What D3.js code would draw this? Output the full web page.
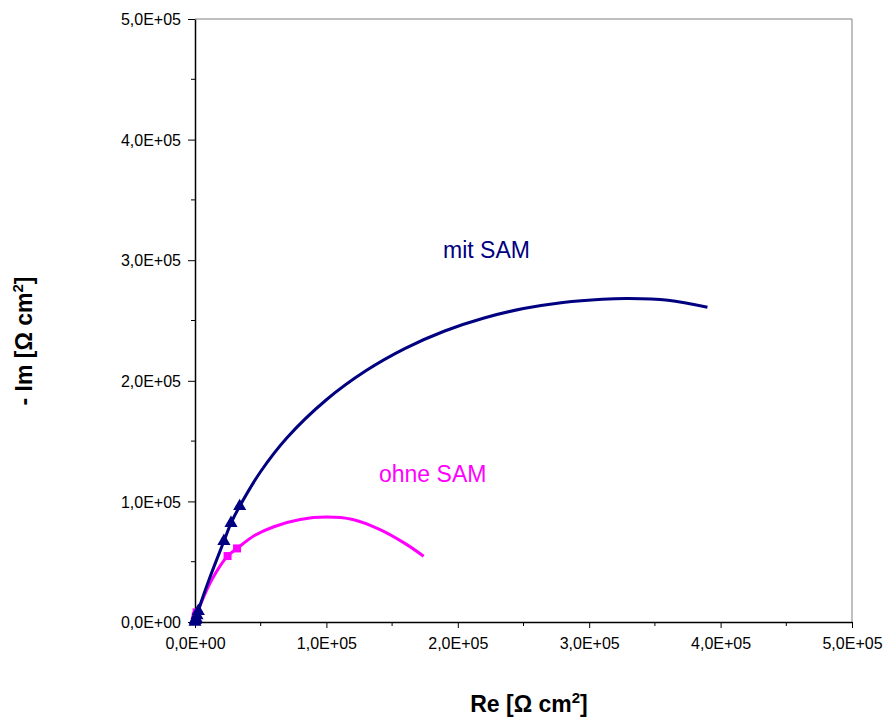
<!DOCTYPE html>
<html>
<head>
<meta charset="utf-8">
<script src="https://d3js.org/d3.v7.min.js"></script>
<style>
  body { margin: 0; background: #fff; }
  text { font-family: "Liberation Sans", Arial, sans-serif; }
</style>
</head>
<body>
<div id="chart"></div>
<script>
// axis ticks
const xTicks = [0, 100000, 200000, 300000, 400000, 500000];
const yTicks = [0, 100000, 200000, 300000, 400000, 500000];

// mit SAM - smoothed line [Re, -Im]
const mitRe = [0, 3000, 10600, 22000, 27400, 34000, 50000, 70000, 100000, 130000, 160000, 190000, 220000, 250000, 280000, 310000, 330000, 360000, 390000];
const mitIm = [0, 11000, 34800, 67000, 82000, 96000, 124800, 152800, 184300, 208300, 226900, 241300, 252100, 259900, 265000, 267700, 268300, 266800, 261000];
// mit SAM - marker points
const mitMarkRe = [0, 300, 800, 1500, 2500, 22000, 27400, 34000];
const mitMarkIm = [0, 1500, 3000, 5500, 9000, 67000, 82000, 96000];

// ohne SAM - smoothed line
const ohneRe = [0, 1000, 4000, 12700, 24800, 32000, 45000, 60000, 80000, 100000, 120000, 140000, 160000, 174000];
const ohneIm = [0, 5000, 14000, 34800, 54700, 61000, 71500, 79000, 85000, 87000, 85000, 77000, 65000, 54500];
// ohne SAM - marker points
const ohneMarkRe = [200, 600, 1200, 24800, 32000];
const ohneMarkIm = [2000, 5000, 8000, 54700, 61000];

const W = 888, H = 727;
const plot = { left: 195, right: 852, top: 19, bottom: 622 };

const svg = d3.select("#chart").append("svg")
    .attr("width", W)
    .attr("height", H);

svg.append("rect").attr("width", W).attr("height", H).attr("fill", "#fff");

const x = d3.scaleLinear().domain([0, 500000]).range([plot.left, plot.right]);
const y = d3.scaleLinear().domain([0, 500000]).range([plot.bottom, plot.top]);

const fmt = v => {
    const e = v === 0 ? 0 : Math.floor(Math.log10(v));
    const m = v / Math.pow(10, e);
    return m.toFixed(1).replace(".", ",") + "E+" + String(e).padStart(2, "0");
};

// plot frame (top + right, gray)
svg.append("path")
    .attr("d", `M${plot.left},${plot.top}H${plot.right}V${plot.bottom}`)
    .attr("fill", "none")
    .attr("stroke", "#808080")
    .attr("stroke-width", 1);

// minor ticks
const minor = d3.range(50000, 500000, 100000);
svg.append("g").selectAll("line").data(minor).join("line")
    .attr("x1", d => x(d)).attr("x2", d => x(d))
    .attr("y1", plot.bottom).attr("y2", plot.bottom + 4)
    .attr("stroke", "#000");
svg.append("g").selectAll("line").data(minor).join("line")
    .attr("y1", d => y(d)).attr("y2", d => y(d))
    .attr("x1", plot.left - 4).attr("x2", plot.left)
    .attr("stroke", "#000");

// X axis
const xAxis = svg.append("g")
    .attr("transform", `translate(0,${plot.bottom})`)
    .call(d3.axisBottom(x).tickValues(xTicks).tickFormat(fmt).tickSizeInner(6).tickSizeOuter(0).tickPadding(10));

// Y axis
const yAxis = svg.append("g")
    .attr("transform", `translate(${plot.left},0)`)
    .call(d3.axisLeft(y).tickValues(yTicks).tickFormat(fmt).tickSizeInner(7).tickSizeOuter(0).tickPadding(7));

[xAxis, yAxis].forEach(a => {
    a.select(".domain").attr("stroke", "#000").attr("stroke-width", 1.5);
    a.selectAll(".tick line").attr("stroke", "#000");
    a.selectAll("text")
        .attr("fill", "#000")
        .style("font-family", "'Liberation Sans', Arial, sans-serif")
        .style("font-size", "16px");
});
yAxis.selectAll("text").attr("dy", "0.35em");

// axis titles
const xTitle = svg.append("text")
    .attr("x", 529).attr("y", 712)
    .attr("text-anchor", "middle")
    .style("font-size", "23px").style("font-weight", "bold");
xTitle.append("tspan").text("Re [Ω cm");
xTitle.append("tspan").attr("dy", -9).style("font-size", "15px").text("2");
xTitle.append("tspan").attr("dy", 9).text("]");

const yTitle = svg.append("text")
    .attr("transform", "translate(32,341) rotate(-90)")
    .attr("text-anchor", "middle")
    .style("font-size", "23px").style("font-weight", "bold");
yTitle.append("tspan").text("- Im [Ω cm");
yTitle.append("tspan").attr("dy", -9).style("font-size", "15px").text("2");
yTitle.append("tspan").attr("dy", 9).text("]");

// lines
const line = d3.line()
    .x(d => x(d[0]))
    .y(d => y(d[1]))
    .curve(d3.curveCatmullRom.alpha(0.5));

const mitData = mitRe.map((v, i) => [v, mitIm[i]]);
const ohneData = ohneRe.map((v, i) => [v, ohneIm[i]]);

svg.append("path").datum(ohneData)
    .attr("d", line)
    .attr("fill", "none")
    .attr("stroke", "#FF00FF")
    .attr("stroke-width", 3);

svg.append("path").datum(mitData)
    .attr("d", line)
    .attr("fill", "none")
    .attr("stroke", "#000080")
    .attr("stroke-width", 3);

// markers
svg.append("g").selectAll("path")
    .data(ohneMarkRe.map((v, i) => [v, ohneMarkIm[i]]))
    .join("path")
    .attr("transform", d => `translate(${x(d[0])},${y(d[1])})`)
    .attr("d", d3.symbol().type(d3.symbolSquare).size(64))
    .attr("fill", "#FF00FF");

svg.append("g").selectAll("path")
    .data(mitMarkRe.map((v, i) => [v, mitMarkIm[i]]))
    .join("path")
    .attr("transform", d => `translate(${x(d[0])},${y(d[1])})`)
    .attr("d", d3.symbol().type(d3.symbolTriangle).size(75))
    .attr("fill", "#000080");

// series labels
svg.append("text")
    .attr("x", 443).attr("y", 258)
    .style("font-size", "23px")
    .attr("fill", "#000080")
    .text("mit SAM");

svg.append("text")
    .attr("x", 379).attr("y", 482)
    .style("font-size", "23px")
    .attr("fill", "#FF00FF")
    .text("ohne SAM");
</script>
</body>
</html>
